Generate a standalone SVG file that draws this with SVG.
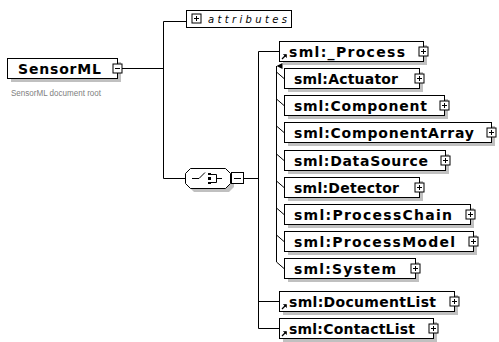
<svg xmlns="http://www.w3.org/2000/svg" width="499" height="342" viewBox="0 0 499 342">
<style>
.bx{fill:#fff;stroke:#000;stroke-width:1}
.sh{fill:#c0c0c0}
.ln{stroke:#000;stroke-width:1;fill:none}
.btn{fill:#fff;stroke:#000;stroke-width:1}
.t{font-family:"DejaVu Sans",Verdana,sans-serif;font-weight:bold;font-size:14px;fill:#000}
</style>
<defs>
<g id="plus"><rect class="btn" x="-4.5" y="-4.5" width="9" height="9"/><path class="ln" d="M-2.5,0H2.5M0,-2.5V2.5"/></g>
<g id="minus"><rect class="btn" x="-4.5" y="-4.5" width="9" height="9"/><path class="ln" d="M-2.5,0H2.5"/></g>
<g id="ref"><path d="M1,5L5,1" stroke="#000" stroke-width="1.2"/><path d="M2.5,0.5H5.5V3.5Z" fill="#000" stroke="#000" stroke-width="0.6"/></g>
<marker id="up" markerWidth="6" markerHeight="6" refX="3" refY="0" orient="auto-start-reverse" markerUnits="userSpaceOnUse" viewBox="0 0 6 6"><path d="M0,6L3,0L6,6Z" fill="#000"/></marker>
</defs>

<g id="connectors">
<path class="ln" d="M121,68.5H163.5M163.5,21.5V178.5M163.5,21.5H187M163.5,178.5H186M244,178.5H258.5M258.5,51.5V328.5M258.5,51.5H280M258.5,301.5H280M258.5,328.5H280"/>
<path class="ln" d="M276.5,66V262" marker-start="url(#up)"/>
<path class="ln" d="M276.5,72L284,78.5M276.5,99L284,105.5M276.5,126L284,132.5M276.5,154L284,160.5M276.5,181L284,187.5M276.5,208L284,214.5M276.5,235L284,241.5M276.5,262L284,268.5"/>
</g>

<g id="SensorML">
<rect class="sh" x="11" y="62" width="110" height="20"/>
<rect class="bx" x="7.5" y="58.5" width="110" height="20"/>
<text class="t" x="18" y="74" font-size="15" textLength="83" lengthAdjust="spacing">SensorML</text>
<use href="#minus" x="117.5" y="68.5"/>
<text x="11" y="95.5" font-family="'Liberation Sans',Arial,sans-serif" font-size="8.5" fill="#808080" textLength="90" lengthAdjust="spacingAndGlyphs">SensorML document root</text>
</g>

<g id="attributes">
<rect class="bx" x="186.5" y="10.5" width="105" height="17"/>
<use href="#plus" x="196.5" y="18.5"/>
<text x="208" y="22.5" font-family="'DejaVu Sans',Verdana,sans-serif" font-style="italic" font-size="10" textLength="79" lengthAdjust="spacing">attributes</text>
</g>

<g id="choice">
<polygon class="sh" points="194,172 229,172 234,177 234,187 229,192 194,192 189,187 189,177"/>
<polygon class="bx" points="190.5,168.5 225.5,168.5 230.5,173.5 230.5,183.5 225.5,188.5 190.5,188.5 185.5,183.5 185.5,173.5"/>
<path class="ln" d="M192,178.5H199L205,172.5"/>
<rect x="208" y="173" width="3" height="2" fill="#000"/>
<rect x="208" y="177" width="3" height="3" fill="#000"/>
<rect x="208" y="182" width="3" height="2" fill="#000"/>
<path class="ln" d="M211,174.5H216.5V182.5H211M216.5,178.5H222"/>
<rect class="btn" x="231.5" y="172.5" width="12" height="11"/>
<path class="ln" d="M234,178.5H241"/>
</g>

<g id="Process">
<rect class="sh" x="283" y="45" width="144" height="20"/>
<rect class="bx" x="279.5" y="41.5" width="144" height="20"/>
<text class="t" x="289" y="56.5" textLength="116" lengthAdjust="spacing">sml:_Process</text>
<use href="#ref" x="281" y="54"/>
<use href="#plus" x="423.5" y="51.5"/>
</g>

<g id="Actuator">
<rect class="sh" x="288" y="72" width="135" height="20"/>
<rect class="bx" x="284.5" y="68.5" width="135" height="20"/>
<text class="t" x="294" y="83.5" textLength="104" lengthAdjust="spacing">sml:Actuator</text>
<use href="#plus" x="419.5" y="78.5"/>
</g>

<g id="Component">
<rect class="sh" x="288" y="99" width="160" height="20"/>
<rect class="bx" x="284.5" y="95.5" width="160" height="20"/>
<text class="t" x="294" y="110.5" textLength="133" lengthAdjust="spacing">sml:Component</text>
<use href="#plus" x="444.5" y="105.5"/>
</g>

<g id="ComponentArray">
<rect class="sh" x="288" y="126" width="207" height="20"/>
<rect class="bx" x="284.5" y="122.5" width="207" height="20"/>
<text class="t" x="294" y="137.5" textLength="180" lengthAdjust="spacing">sml:ComponentArray</text>
<use href="#plus" x="491.5" y="132.5"/>
</g>

<g id="DataSource">
<rect class="sh" x="288" y="154" width="161" height="20"/>
<rect class="bx" x="284.5" y="150.5" width="161" height="20"/>
<text class="t" x="294" y="165.5" textLength="134" lengthAdjust="spacing">sml:DataSource</text>
<use href="#plus" x="445.5" y="160.5"/>
</g>

<g id="Detector">
<rect class="sh" x="288" y="181" width="135" height="20"/>
<rect class="bx" x="284.5" y="177.5" width="135" height="20"/>
<text class="t" x="294" y="192.5" textLength="105" lengthAdjust="spacing">sml:Detector</text>
<use href="#plus" x="419.5" y="187.5"/>
</g>

<g id="ProcessChain">
<rect class="sh" x="288" y="208" width="186" height="20"/>
<rect class="bx" x="284.5" y="204.5" width="186" height="20"/>
<text class="t" x="294" y="219.5" textLength="158" lengthAdjust="spacing">sml:ProcessChain</text>
<use href="#plus" x="470.5" y="214.5"/>
</g>

<g id="ProcessModel">
<rect class="sh" x="288" y="235" width="189" height="20"/>
<rect class="bx" x="284.5" y="231.5" width="189" height="20"/>
<text class="t" x="294" y="246.5" textLength="161" lengthAdjust="spacing">sml:ProcessModel</text>
<use href="#plus" x="473.5" y="241.5"/>
</g>

<g id="System">
<rect class="sh" x="288" y="262" width="131" height="20"/>
<rect class="bx" x="284.5" y="258.5" width="131" height="20"/>
<text class="t" x="294" y="273.5" textLength="102" lengthAdjust="spacing">sml:System</text>
<use href="#plus" x="415.5" y="268.5"/>
</g>

<g id="DocumentList">
<rect class="sh" x="283" y="295" width="175" height="20"/>
<rect class="bx" x="279.5" y="291.5" width="175" height="20"/>
<text class="t" x="289" y="306.5" textLength="147" lengthAdjust="spacing">sml:DocumentList</text>
<use href="#ref" x="281" y="304"/>
<use href="#plus" x="454.5" y="301.5"/>
</g>

<g id="ContactList">
<rect class="sh" x="283" y="322" width="154" height="20"/>
<rect class="bx" x="279.5" y="318.5" width="154" height="20"/>
<text class="t" x="289" y="333.5" textLength="126" lengthAdjust="spacing">sml:ContactList</text>
<use href="#ref" x="281" y="331"/>
<use href="#plus" x="433.5" y="328.5"/>
</g>
</svg>
